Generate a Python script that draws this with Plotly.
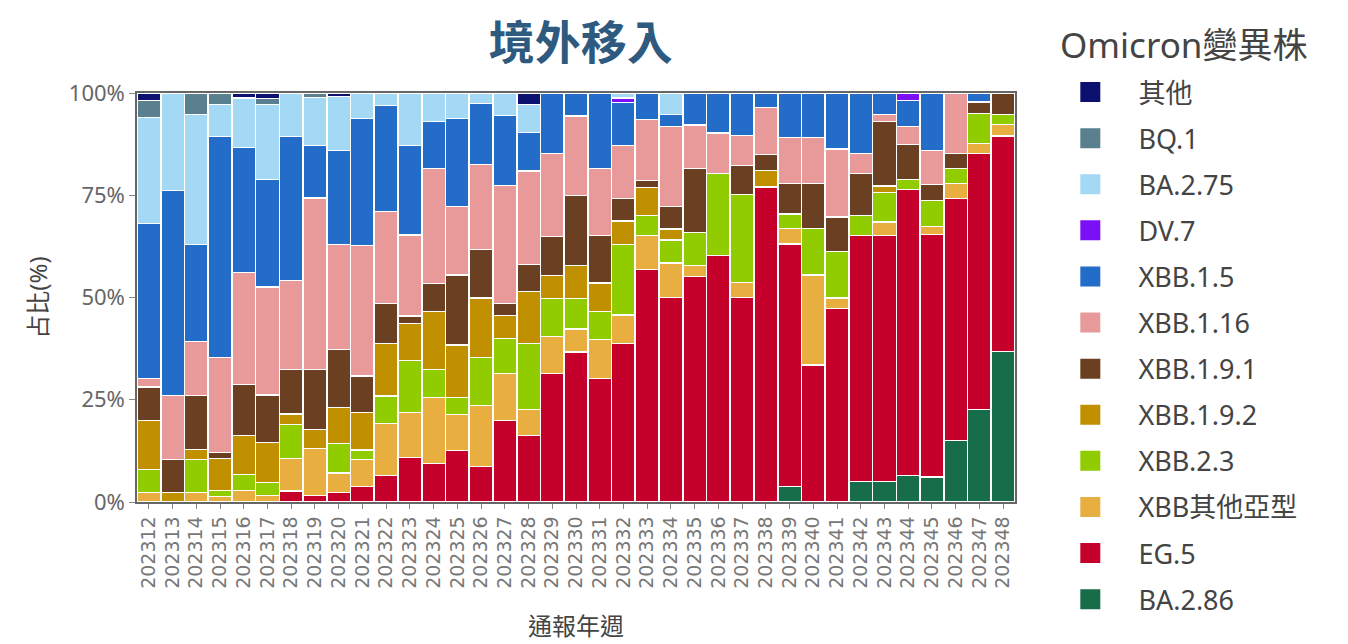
import plotly.graph_objects as go

weeks = [str(w) for w in range(202312, 202349)]

# stack order bottom -> top
ba286 = [0, 0, 0, 0, 0, 0, 0, 0, 0, 0, 0, 0, 0, 0, 0, 0, 0, 0, 0, 0, 0, 0, 0, 0, 0, 0, 0,
         3.8, 0, 0, 5.1, 5.1, 6.5, 6.1, 15.0, 22.6, 36.7]
eg5 = [0, 0, 0, 0, 0, 0, 2.7, 1.5, 2.4, 3.7, 6.4, 10.9, 9.3, 12.6, 8.7, 19.9, 16.3, 31.4, 36.7,
       30.2, 38.7, 56.8, 50.0, 55.2, 60.2, 50.0, 77.0, 59.3, 33.5, 47.3, 60.0, 60.0, 70.0, 59.2,
       59.3, 62.5, 52.7]
xbb_other = [2.3, 0, 2.3, 1.3, 2.8, 1.5, 7.9, 11.6, 4.7, 6.7, 12.8, 10.9, 16.2, 8.7, 14.8, 11.6,
             6.3, 9.2, 5.6, 9.5, 7.0, 8.3, 8.5, 2.6, 0, 3.8, 0, 3.7, 22.0, 2.6, 0, 3.3, 0, 2.0,
             3.6, 2.4, 2.8]
xbb23 = [5.7, 0, 8.0, 1.6, 3.9, 3.3, 8.3, 0, 7.3, 2.3, 6.7, 12.8, 6.9, 4.3, 11.8, 8.5, 16.1, 9.3,
         7.5, 7.0, 17.3, 4.9, 5.6, 8.0, 20.1, 21.4, 0, 3.6, 11.3, 11.3, 4.9, 7.2, 2.3, 6.3, 3.8,
         7.4, 2.4]
xbb192 = [11.9, 2.3, 2.6, 7.7, 9.6, 9.8, 2.6, 4.7, 8.7, 9.2, 12.8, 9.0, 14.0, 12.8, 14.6, 5.7,
          12.9, 5.6, 8.0, 6.9, 5.7, 6.9, 2.7, 0, 0, 0, 4.0, 0, 0, 0, 0, 1.6, 0, 0, 0, 0, 0]
xbb191 = [8.2, 8.0, 13.2, 1.6, 12.4, 11.6, 10.9, 14.7, 14.3, 8.9, 9.9, 1.9, 7.0, 17.1, 11.8, 2.9,
          6.5, 9.5, 17.1, 11.6, 5.6, 1.6, 5.6, 15.8, 0, 7.2, 3.9, 7.5, 11.1, 8.5, 10.3, 15.8, 8.7,
          3.9, 3.5, 2.8, 5.3]
xbb116 = [2.1, 15.8, 13.2, 23.2, 27.4, 26.4, 21.8, 41.9, 25.6, 32.0, 22.4, 19.8, 27.9, 16.8, 20.9,
          28.8, 22.9, 20.2, 19.5, 16.5, 12.9, 14.9, 19.5, 10.6, 9.9, 7.3, 11.6, 11.3, 11.3, 16.6,
          5.0, 1.6, 4.3, 8.3, 14.9, 0, 0]
xbb15 = [37.8, 50.1, 23.7, 54.0, 30.4, 26.3, 35.2, 12.8, 23.0, 31.0, 26.0, 21.8, 11.6, 21.5, 14.8,
         17.1, 9.5, 14.9, 5.6, 18.4, 10.4, 6.5, 2.9, 7.8, 9.8, 10.4, 3.5, 10.8, 10.8, 13.7, 14.7,
         5.3, 6.3, 14.1, 0, 2.2, 0]
dv7 = [0, 0, 0, 0, 0, 0, 0, 0, 0, 0, 0, 0, 0, 0, 0, 0, 0, 0, 0, 0, 1.2, 0, 0, 0, 0, 0, 0, 0, 0,
       0, 0, 0, 1.9, 0, 0, 0, 0]
ba275 = [26.1, 23.8, 31.7, 7.8, 12.2, 18.3, 10.6, 11.8, 13.3, 6.2, 3.0, 12.9, 6.9, 6.2, 2.6, 5.6,
         6.7, 0, 0, 0, 1.2, 0, 5.3, 0, 0, 0, 0, 0, 0, 0, 0, 0, 0, 0, 0, 0, 0]
bq1 = [4.0, 0, 5.3, 2.9, 0, 1.6, 0, 1.1, 0, 0, 0, 0, 0, 0, 0, 0, 0, 0, 0, 0, 0, 0, 0, 0, 0, 0,
       0, 0, 0, 0, 0, 0, 0, 0, 0, 0, 0]
others = [1.9, 0, 0, 0, 1.2, 1.3, 0, 0, 0.8, 0, 0, 0, 0, 0, 0, 0, 2.9, 0, 0, 0, 0, 0, 0, 0, 0, 0,
          0, 0, 0, 0, 0, 0, 0, 0, 0, 0, 0]

series_names = ["BA.2.86", "EG.5", "XBB其他亞型", "XBB.2.3", "XBB.1.9.2", "XBB.1.9.1",
                "XBB.1.16", "XBB.1.5", "DV.7", "BA.2.75", "BQ.1", "其他"]
series_values = [ba286, eg5, xbb_other, xbb23, xbb192, xbb191, xbb116, xbb15, dv7, ba275, bq1, others]
series_colors = ["#176d4a", "#c5002b", "#e8ae40", "#90cc00", "#c09000", "#6b3f21",
                 "#e89a9a", "#236dc9", "#7b0ff5", "#a3d9f5", "#5a7f8e", "#0c1170"]

y_tick_vals = [0, 25, 50, 75, 100]
y_tick_text = ["0%", "25%", "50%", "75%", "100%"]

font_family = "Noto Sans, Noto Sans CJK TC, sans-serif"
legend_pad = "\u00a0" * 4

fig = go.Figure()
for name, vals, col in zip(series_names, series_values, series_colors):
    fig.add_trace(go.Bar(
        x=weeks, y=vals, name=name, showlegend=False, legendgroup=name,
        marker=dict(color=col, line=dict(color="white", width=1.2)),
    ))

# legend entries (top of stack listed first)
for name, col in reversed(list(zip(series_names, series_colors))):
    fig.add_trace(go.Scatter(
        x=[None], y=[None], mode="markers", name=legend_pad + name, legendgroup=name,
        marker=dict(symbol="square", size=16, color=col, line=dict(color=col, width=4)),
        hoverinfo="skip",
    ))

fig.update_layout(
    width=1340, height=636,
    barmode="stack", barnorm="percent", bargap=0.02,
    paper_bgcolor="white", plot_bgcolor="white",
    margin=dict(l=129, r=333, t=85, b=142, autoexpand=False),
    font=dict(family=font_family, color="#555"),
    title=dict(text="境外移入", x=0.4275, xanchor="center", y=0.945, yanchor="middle",
               yref="container",
               font=dict(size=46, color="#2f5a80", family=font_family, weight="bold")),
    annotations=[dict(
        text="Omicron變異株", xref="paper", yref="paper",
        x=(1058 - 137) / 878, xanchor="left", y=(502 - 45) / 409, yanchor="middle",
        showarrow=False, font=dict(size=35, color="#444"),
    )],
    legend=dict(
        font=dict(size=27, color="#444"),
        x=1.063, xanchor="left", y=(502 - 68) / 409, yanchor="top",
        traceorder="grouped", tracegroupgap=8,
        bgcolor="rgba(0,0,0,0)", maxheight=700,
    ),
    xaxis=dict(
        title=dict(text="通報年週", font=dict(size=24, color="#444"), standoff=30),
        type="category", tickangle=-90,
        tickfont=dict(size=19, color="#777", family="DejaVu Sans"),
        ticks="outside", ticklen=5, tickcolor="#888", automargin=False,
        showline=True, linecolor="#666", linewidth=1.5, mirror=True,
    ),
    yaxis=dict(
        title=dict(text="占比(%)", font=dict(size=24, color="#444"), standoff=14),
        range=[0, 100], tickvals=y_tick_vals, ticktext=y_tick_text,
        tickfont=dict(size=22, color="#666"),
        ticks="outside", ticklen=6, tickcolor="#888", automargin=False,
        showgrid=False, zeroline=False,
        showline=True, linecolor="#666", linewidth=1.5, mirror=True,
    ),
)

fig.write_html("out.html")
